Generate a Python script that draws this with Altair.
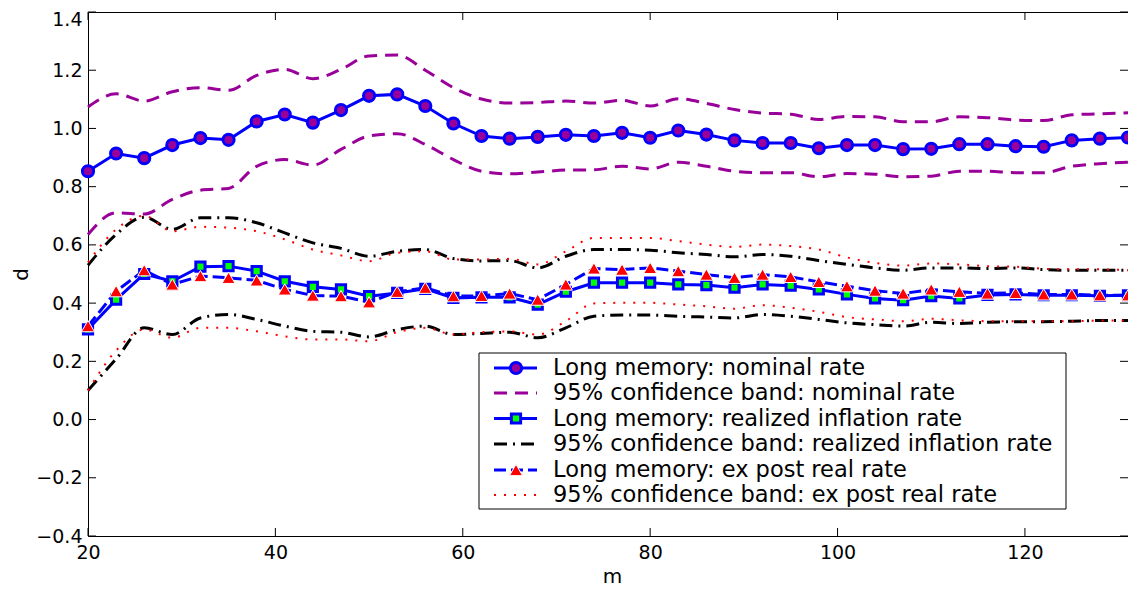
import altair as alt
import pandas as pd

# ---------------- data ----------------
m = list(range(20, 132, 3))

nominal_d = [0.853, 0.914, 0.898, 0.943, 0.967, 0.961, 1.024, 1.048, 1.020, 1.063,
             1.112, 1.117, 1.077, 1.017, 0.974, 0.965, 0.971, 0.978, 0.974, 0.985,
             0.968, 0.993, 0.979, 0.959, 0.950, 0.950, 0.932, 0.943, 0.943, 0.929,
             0.930, 0.946, 0.946, 0.939, 0.937, 0.959, 0.965, 0.969]
nominal_up = [1.074, 1.119, 1.094, 1.126, 1.140, 1.131, 1.182, 1.203, 1.171, 1.203,
              1.249, 1.252, 1.200, 1.140, 1.101, 1.087, 1.089, 1.094, 1.087, 1.097,
              1.077, 1.102, 1.086, 1.065, 1.053, 1.049, 1.031, 1.041, 1.040, 1.023,
              1.023, 1.040, 1.037, 1.029, 1.027, 1.047, 1.050, 1.054]
nominal_lo = [0.636, 0.710, 0.706, 0.756, 0.788, 0.794, 0.870, 0.893, 0.874, 0.928,
              0.974, 0.982, 0.945, 0.893, 0.853, 0.844, 0.850, 0.857, 0.858, 0.870,
              0.861, 0.884, 0.870, 0.853, 0.848, 0.848, 0.834, 0.845, 0.843, 0.834,
              0.836, 0.853, 0.853, 0.848, 0.848, 0.870, 0.879, 0.884]

infl_d = [0.310, 0.412, 0.500, 0.475, 0.525, 0.527, 0.510, 0.475, 0.456, 0.447,
          0.424, 0.435, 0.449, 0.418, 0.420, 0.420, 0.395, 0.439, 0.470, 0.470,
          0.470, 0.464, 0.462, 0.453, 0.464, 0.460, 0.447, 0.430, 0.416, 0.410,
          0.424, 0.416, 0.428, 0.430, 0.427, 0.427, 0.425, 0.427]
infl_up = [0.530, 0.636, 0.695, 0.653, 0.693, 0.693, 0.676, 0.641, 0.607, 0.588,
           0.561, 0.578, 0.584, 0.553, 0.545, 0.546, 0.521, 0.561, 0.584, 0.584,
           0.582, 0.573, 0.567, 0.559, 0.567, 0.561, 0.546, 0.533, 0.521, 0.513,
           0.521, 0.521, 0.519, 0.521, 0.515, 0.513, 0.513, 0.513]
infl_lo = [0.100, 0.208, 0.315, 0.292, 0.349, 0.361, 0.344, 0.321, 0.303, 0.300,
           0.284, 0.309, 0.321, 0.292, 0.296, 0.300, 0.281, 0.315, 0.355, 0.359,
           0.359, 0.355, 0.352, 0.349, 0.361, 0.355, 0.344, 0.332, 0.326, 0.321,
           0.334, 0.330, 0.334, 0.336, 0.336, 0.338, 0.340, 0.340]

real_d = [0.321, 0.441, 0.513, 0.464, 0.493, 0.487, 0.478, 0.447, 0.426, 0.424,
          0.403, 0.439, 0.453, 0.424, 0.425, 0.433, 0.412, 0.464, 0.519, 0.515,
          0.521, 0.510, 0.498, 0.487, 0.498, 0.490, 0.473, 0.458, 0.443, 0.433,
          0.447, 0.439, 0.433, 0.435, 0.430, 0.430, 0.427, 0.427]
real_up = [0.540, 0.653, 0.700, 0.647, 0.662, 0.659, 0.647, 0.619, 0.584, 0.564,
           0.544, 0.573, 0.578, 0.550, 0.550, 0.552, 0.533, 0.578, 0.624, 0.624,
           0.624, 0.613, 0.601, 0.593, 0.601, 0.596, 0.584, 0.557, 0.538, 0.529,
           0.536, 0.533, 0.527, 0.525, 0.518, 0.516, 0.516, 0.513]
real_lo = [0.100, 0.237, 0.309, 0.281, 0.315, 0.315, 0.303, 0.286, 0.275, 0.275,
           0.269, 0.300, 0.315, 0.292, 0.300, 0.303, 0.292, 0.338, 0.399, 0.401,
           0.401, 0.395, 0.389, 0.381, 0.393, 0.384, 0.370, 0.352, 0.344, 0.338,
           0.346, 0.341, 0.338, 0.338, 0.338, 0.338, 0.340, 0.340]

x_ticks = [20, 40, 60, 80, 100, 120]
y_ticks = [-0.4, -0.2, 0, 0.2, 0.4, 0.6, 0.8, 1.0, 1.2, 1.4]

legend_labels = [
    "Long memory: nominal rate",
    "95% confidence band: nominal rate",
    "Long memory: realized inflation rate",
    "95% confidence band: realized inflation rate",
    "Long memory: ex post real rate",
    "95% confidence band: ex post real rate",
]

# ---------------- styling ----------------
FONT = "DejaVu Sans"
BLUE = "#0000ff"
PURPLE = "#990099"
GREEN = "#00ff00"
RED = "#ff0000"
BLACK = "#000000"
W, H = 1040, 524
TICK = 8

xs = alt.Scale(domain=[20, 131], nice=False, zero=False)
ys = alt.Scale(domain=[-0.4, 1.4], nice=False, zero=False)

DASH = [13, 8]
DASHDOT = [13, 6, 2, 6]
DOT = [2, 8]
REALDASH = [12, 5]

x_axis = alt.Axis(values=x_ticks, ticks=False, domain=False, grid=False,
                  labelFont=FONT, labelFontSize=19, labelColor=BLACK,
                  labelPadding=7, labelFlush=False,
                  titleFont=FONT, titleFontSize=20, titleFontWeight="normal",
                  titleColor=BLACK, titleX=524, titleY=30, titleBaseline="top")
y_axis = alt.Axis(values=y_ticks, ticks=False, domain=False, grid=False,
                  labelFont=FONT, labelFontSize=19, labelColor=BLACK,
                  labelPadding=6, labelFlush=False,
                  labelOffset={"condition": {"test": "datum.value > 1.3", "value": 7}, "value": 0},
                  titleFont=FONT, titleFontSize=20, titleFontWeight="normal",
                  titleColor=BLACK, titleX=-67, titleY=262,
                  titleAngle=270, titleBaseline="middle", titleAlign="center")


def series(vals):
    return pd.DataFrame({"m": m, "v": vals})


def enc(chart):
    return chart.encode(
        x=alt.X("m:Q", scale=xs, axis=x_axis, title="m"),
        y=alt.Y("v:Q", scale=ys, axis=y_axis, title="d"),
    )


CIRCLE = dict(shape="circle", filled=True, fill=PURPLE, stroke=BLUE, strokeWidth=3, size=125, opacity=1)
SQUARE = dict(shape="square", filled=True, fill=GREEN, stroke=BLUE, strokeWidth=3, size=85, opacity=1)
TRIANGLE = dict(shape="triangle-up", filled=True, fill=RED, stroke="white", strokeWidth=1, size=170, opacity=1)

layers = []

# nominal
layers.append(enc(alt.Chart(series(nominal_d)).mark_line(color=BLUE, strokeWidth=3)))
layers.append(enc(alt.Chart(series(nominal_d)).mark_point(**CIRCLE)))
for band in (nominal_up, nominal_lo):
    layers.append(enc(alt.Chart(series(band)).mark_line(
        color=PURPLE, strokeWidth=3, strokeDash=DASH, interpolate="monotone")))

# realized inflation
layers.append(enc(alt.Chart(series(infl_d)).mark_line(color=BLUE, strokeWidth=3)))
layers.append(enc(alt.Chart(series(infl_d)).mark_point(**SQUARE)))
for band in (infl_up, infl_lo):
    layers.append(enc(alt.Chart(series(band)).mark_line(
        color=BLACK, strokeWidth=3, strokeDash=DASHDOT, interpolate="monotone")))

# ex post real
layers.append(enc(alt.Chart(series(real_d)).mark_line(color=BLUE, strokeWidth=3, strokeDash=REALDASH)))
layers.append(enc(alt.Chart(series(real_d)).mark_point(**TRIANGLE)))
for band in (real_up, real_lo):
    layers.append(enc(alt.Chart(series(band)).mark_line(
        color=RED, strokeWidth=2, strokeDash=DOT, interpolate="monotone")))

# inward ticks on all four sides
xt = pd.DataFrame({"t": x_ticks})
yt = pd.DataFrame({"t": y_ticks})
xt_enc = alt.X("t:Q", scale=xs, axis=x_axis, title="m")
yt_enc = alt.Y("t:Q", scale=ys, axis=y_axis, title="d")
layers.append(alt.Chart(xt).mark_rule(color=BLACK, strokeWidth=1).encode(
    x=xt_enc, y=alt.value(0), y2=alt.value(TICK)))
layers.append(alt.Chart(xt).mark_rule(color=BLACK, strokeWidth=1).encode(
    x=xt_enc, y=alt.value(H), y2=alt.value(H - TICK)))
layers.append(alt.Chart(yt).mark_rule(color=BLACK, strokeWidth=1).encode(
    y=yt_enc, x=alt.value(0), x2=alt.value(TICK)))
layers.append(alt.Chart(yt).mark_rule(color=BLACK, strokeWidth=1).encode(
    y=yt_enc, x=alt.value(W), x2=alt.value(W - TICK)))

# legend (drawn manually, positions relative to plot area)
one = pd.DataFrame({"k": [0]})
LX0, LX1, LY0, LY1 = 391, 978, 341, 497
rows = [356, 381, 406.5, 432, 458, 483]
SX0, SX1, MX, TX = 406, 449, 428, 465

layers.append(alt.Chart(one).mark_rect(fill="white", stroke=BLACK, strokeWidth=1).encode(
    x=alt.value(LX0), x2=alt.value(LX1), y=alt.value(LY0), y2=alt.value(LY1)))

sample_styles = [
    dict(color=BLUE, strokeWidth=3),
    dict(color=PURPLE, strokeWidth=3, strokeDash=DASH),
    dict(color=BLUE, strokeWidth=3),
    dict(color=BLACK, strokeWidth=3, strokeDash=DASHDOT),
    dict(color=BLUE, strokeWidth=3, strokeDash=REALDASH),
    dict(color=RED, strokeWidth=2, strokeDash=DOT),
]
marker_styles = [CIRCLE, None, SQUARE, None, TRIANGLE, None]
for ry, lab, ss, ms in zip(rows, legend_labels, sample_styles, marker_styles):
    layers.append(alt.Chart(one).mark_rule(**ss).encode(
        x=alt.value(SX0), x2=alt.value(SX1), y=alt.value(ry)))
    if ms is not None:
        layers.append(alt.Chart(one).mark_point(**ms).encode(
            x=alt.value(MX), y=alt.value(ry)))
    layers.append(alt.Chart(one).mark_text(
        text=lab, align="left", baseline="middle", font=FONT, fontSize=22.5, color=BLACK).encode(
        x=alt.value(TX), y=alt.value(ry)))

chart = alt.layer(*layers).properties(
    width=W, height=H,
    padding={"left": 80, "top": 4, "right": 0, "bottom": 50},
    autosize=alt.AutoSizeParams(type="none"),
    background="white",
).configure_view(stroke=BLACK, strokeWidth=1)

chart.save("out.html", embed_options={"renderer": "svg", "actions": False})
